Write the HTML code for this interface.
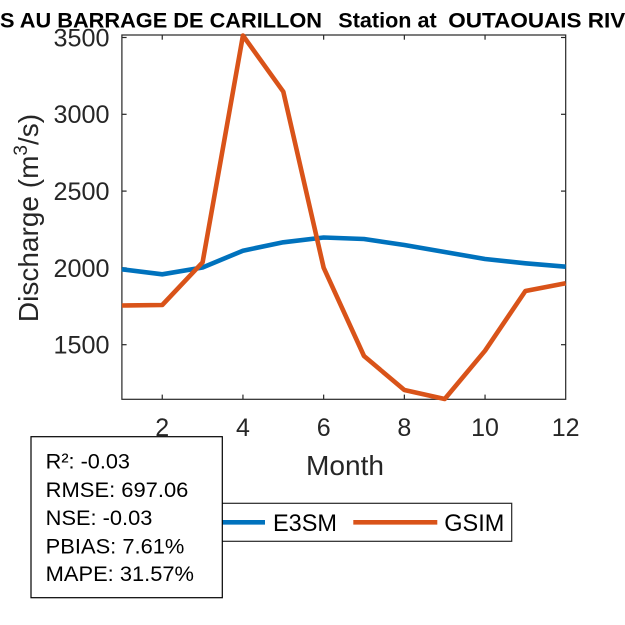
<!DOCTYPE html>
<html>
<head>
<meta charset="utf-8">
<style>
  html,body{margin:0;padding:0;background:#fff;}
  svg{display:block;}
  text{font-family:"Liberation Sans", Arial, sans-serif;}
</style>
</head>
<body>
<svg width="625" height="625" viewBox="0 0 625 625" xmlns="http://www.w3.org/2000/svg">
  <rect x="0" y="0" width="625" height="625" fill="#fff"/>

  <!-- Title (clipped) -->
  <g font-weight="bold" font-size="21.5" fill="#000">
    <text x="0" y="27.5" textLength="322" lengthAdjust="spacingAndGlyphs">S AU BARRAGE DE CARILLON</text>
    <text x="338.3" y="27.5" textLength="98.4" lengthAdjust="spacingAndGlyphs">Station at</text>
    <text x="448.3" y="27.5" textLength="177" lengthAdjust="spacingAndGlyphs">OUTAOUAIS RIV</text>
  </g>

  <!-- Axes box -->
  <rect x="121.9" y="35" width="443.8" height="364.3" fill="#fff" stroke="#262626" stroke-width="1.2"/>

  <!-- X ticks -->
  <g stroke="#262626" stroke-width="1.2">
    <line x1="162.25" y1="399.3" x2="162.25" y2="394.6"/>
    <line x1="242.95" y1="399.3" x2="242.95" y2="394.6"/>
    <line x1="323.65" y1="399.3" x2="323.65" y2="394.6"/>
    <line x1="404.35" y1="399.3" x2="404.35" y2="394.6"/>
    <line x1="485.05" y1="399.3" x2="485.05" y2="394.6"/>
    <line x1="162.25" y1="35" x2="162.25" y2="39.7"/>
    <line x1="242.95" y1="35" x2="242.95" y2="39.7"/>
    <line x1="323.65" y1="35" x2="323.65" y2="39.7"/>
    <line x1="404.35" y1="35" x2="404.35" y2="39.7"/>
    <line x1="485.05" y1="35" x2="485.05" y2="39.7"/>
    <!-- Y ticks -->
    <line x1="121.9" y1="344.7" x2="126.6" y2="344.7"/>
    <line x1="121.9" y1="267.9" x2="126.6" y2="267.9"/>
    <line x1="121.9" y1="191.1" x2="126.6" y2="191.1"/>
    <line x1="121.9" y1="114.3" x2="126.6" y2="114.3"/>
    <line x1="121.9" y1="37.5" x2="126.6" y2="37.5"/>
    <line x1="565.7" y1="344.7" x2="561" y2="344.7"/>
    <line x1="565.7" y1="267.9" x2="561" y2="267.9"/>
    <line x1="565.7" y1="191.1" x2="561" y2="191.1"/>
    <line x1="565.7" y1="114.3" x2="561" y2="114.3"/>
    <line x1="565.7" y1="37.5" x2="561" y2="37.5"/>
  </g>

  <!-- X tick labels -->
  <g font-size="25" fill="#262626" text-anchor="middle">
    <text x="162.25" y="436">2</text>
    <text x="242.95" y="436">4</text>
    <text x="323.65" y="436">6</text>
    <text x="404.35" y="436">8</text>
    <text x="485.05" y="436">10</text>
    <text x="565.7" y="436">12</text>
  </g>

  <!-- Y tick labels -->
  <g font-size="25" fill="#262626" text-anchor="end">
    <text x="109.5" y="353.6" textLength="56" lengthAdjust="spacingAndGlyphs">1500</text>
    <text x="109.5" y="276.8" textLength="56" lengthAdjust="spacingAndGlyphs">2000</text>
    <text x="109.5" y="200" textLength="56" lengthAdjust="spacingAndGlyphs">2500</text>
    <text x="109.5" y="123.2" textLength="56" lengthAdjust="spacingAndGlyphs">3000</text>
    <text x="109.5" y="46.4" textLength="56" lengthAdjust="spacingAndGlyphs">3500</text>
  </g>

  <!-- Axis labels -->
  <text x="345" y="475" font-size="28" fill="#262626" text-anchor="middle" textLength="78" lengthAdjust="spacingAndGlyphs">Month</text>
  <g transform="translate(38,218) rotate(-90)">
    <text x="0" y="0" font-size="28" fill="#262626" text-anchor="middle">Discharge (m<tspan font-size="19" dy="-11">3</tspan><tspan dy="11">/s)</tspan></text>
  </g>

  <!-- Series -->
  <polyline fill="none" stroke="#0072BD" stroke-width="4.6" stroke-linejoin="round"
    points="121.9,269.3 162.25,274.3 202.6,267.5 242.95,250.7 283.3,242.3 323.65,237.5 364,239 404.35,245 444.7,252 485.05,259 525.4,263.3 565.7,266.7"/>
  <polyline fill="none" stroke="#D95319" stroke-width="4.6" stroke-linejoin="round"
    points="121.9,305.5 162.25,305 202.6,262.3 242.95,35.5 283.3,91.7 323.65,267.7 364,356 404.35,390 444.7,399 485.05,350.7 525.4,291 565.7,283.3"/>

  <!-- Legend -->
  <rect x="172" y="503.3" width="339.7" height="38" fill="#fff" stroke="#262626" stroke-width="1.2"/>
  <line x1="181" y1="522.3" x2="265" y2="522.3" stroke="#0072BD" stroke-width="4.6"/>
  <text x="273" y="531" font-size="24" fill="#000" textLength="64" lengthAdjust="spacingAndGlyphs">E3SM</text>
  <line x1="353.3" y1="522.3" x2="437.3" y2="522.3" stroke="#D95319" stroke-width="4.6"/>
  <text x="444.3" y="531" font-size="24" fill="#000" textLength="60" lengthAdjust="spacingAndGlyphs">GSIM</text>

  <!-- Stats box -->
  <rect x="31" y="436.7" width="191.3" height="161" fill="#fff" stroke="#000" stroke-width="1.2"/>
  <g font-size="21" fill="#000">
    <text x="45.7" y="468.5" textLength="84.3" lengthAdjust="spacingAndGlyphs">R²: -0.03</text>
    <text x="45.7" y="496.9" textLength="142.7" lengthAdjust="spacingAndGlyphs">RMSE: 697.06</text>
    <text x="45.7" y="525.2" textLength="106.7" lengthAdjust="spacingAndGlyphs">NSE: -0.03</text>
    <text x="45.7" y="553.5" textLength="138.7" lengthAdjust="spacingAndGlyphs">PBIAS: 7.61%</text>
    <text x="45.7" y="581.2" textLength="148.3" lengthAdjust="spacingAndGlyphs">MAPE: 31.57%</text>
  </g>
</svg>
</body>
</html>
